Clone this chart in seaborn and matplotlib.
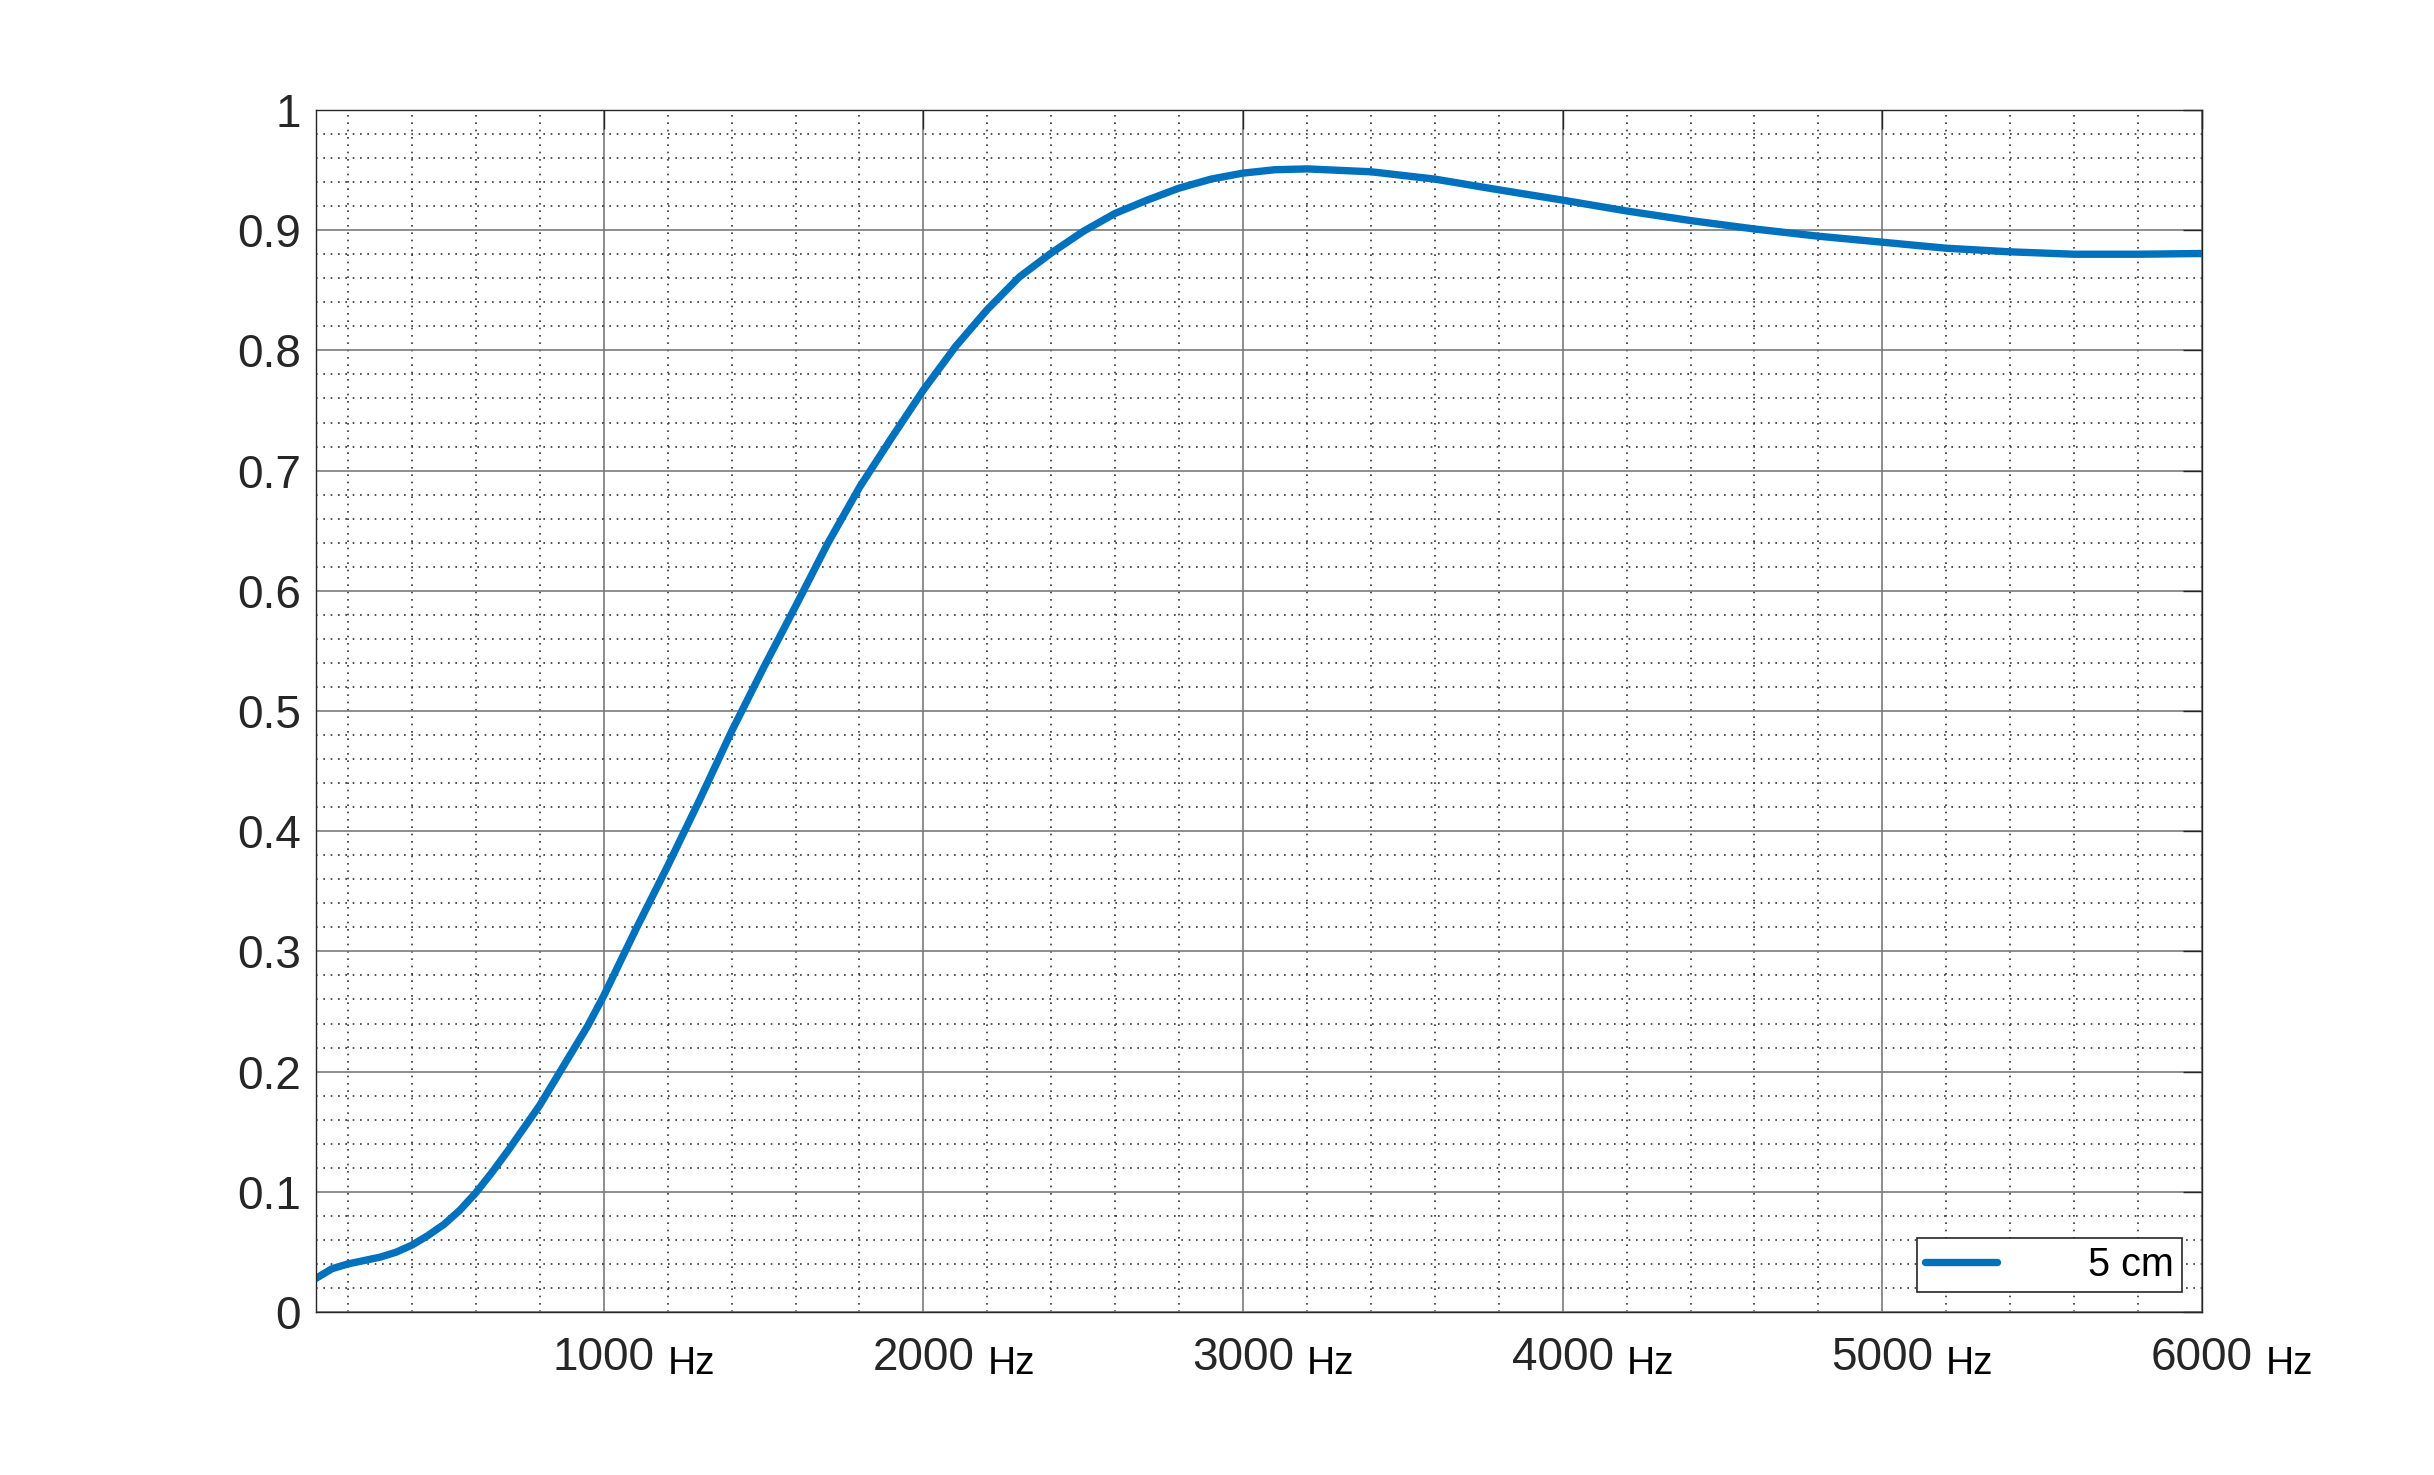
import numpy as np
import pandas as pd
import matplotlib
matplotlib.use("Agg")
import matplotlib.pyplot as plt
import seaborn as sns
from matplotlib.ticker import MultipleLocator, FuncFormatter

# values (frequency in Hz, absorption coefficient)
freq = [100, 150, 200, 250, 300, 350, 400, 450, 500, 550, 600, 650, 700,
        750, 800, 850, 900, 950, 1000, 1100, 1200, 1300, 1400, 1500, 1600,
        1700, 1800, 1900, 2000, 2100, 2200, 2300, 2400, 2500, 2600, 2700,
        2800, 2900, 3000, 3100, 3200, 3400, 3600, 3800, 4000, 4200, 4400,
        4600, 4800, 5000, 5200, 5400, 5600, 5800, 6000]
absorption = [0.028, 0.036, 0.040, 0.0428, 0.0456, 0.0497, 0.0556, 0.0636,
              0.0728, 0.0847, 0.0992, 0.116, 0.134, 0.153, 0.172, 0.194,
              0.216, 0.238, 0.263, 0.318, 0.371, 0.426, 0.483, 0.536, 0.587,
              0.639, 0.686, 0.727, 0.767, 0.803, 0.834, 0.861, 0.881, 0.899,
              0.914, 0.925, 0.935, 0.9425, 0.9475, 0.9503, 0.951, 0.9486,
              0.9425, 0.9336, 0.925, 0.916, 0.908, 0.901, 0.895, 0.890,
              0.885, 0.882, 0.880, 0.880, 0.8806]
series_label = "5 cm"
x_ticks = [1000, 2000, 3000, 4000, 5000, 6000]
y_ticks = [0, 0.1, 0.2, 0.3, 0.4, 0.5, 0.6, 0.7, 0.8, 0.9, 1.0]
unit = "Hz"

df = pd.DataFrame({"freq": freq, "alpha": absorption})

sns.set_style("white")
plt.rcParams["font.family"] = ["Liberation Sans", "DejaVu Sans"]

line_color = "#0072BD"
text_color = "#262626"

fig = plt.figure(figsize=(24.34, 14.75), dpi=100)
ax = fig.add_axes([0.12983, 0.11051, 0.77486, 0.81492])

sns.lineplot(data=df, x="freq", y="alpha", color=line_color, linewidth=5.3,
             label=series_label, ax=ax)

ax.set_xlim(100, 6000)
ax.set_ylim(0, 1)
ax.set_xlabel("")
ax.set_ylabel("")

ax.set_xticks(x_ticks)
ax.set_yticks(y_ticks)
ax.xaxis.set_minor_locator(MultipleLocator(200))
ax.yaxis.set_minor_locator(MultipleLocator(0.02))
ax.yaxis.set_major_formatter(FuncFormatter(lambda v, p: f"{v:g}"))
ax.xaxis.set_major_formatter(FuncFormatter(lambda v, p: f"{v:.0f}"))

ax.grid(which="major", color="#7a7a7a", linewidth=1.2, linestyle="-")
ax.grid(which="minor", color="#333333", linewidth=1.2, linestyle=(0, (1, 3.4)))
ax.set_axisbelow(True)

ax.tick_params(which="major", direction="in", length=13.5, width=1.0,
               color=text_color, top=True, right=True, labelsize=33,
               labelcolor=text_color)
ax.tick_params(axis="y", which="major", pad=11)
ax.tick_params(axis="x", which="major", pad=17)
ax.tick_params(which="minor", length=0)

for side in ax.spines.values():
    side.set_visible(True)
    side.set_color(text_color)
    side.set_linewidth(1.0)

# unit after each frequency label
for t in x_ticks:
    ax.annotate(unit, xy=(t, 0), xycoords=("data", "axes fraction"),
                xytext=(46, -44.5), textcoords="offset points",
                ha="left", va="baseline", fontsize=28, color="black",
                annotation_clip=False)

leg = ax.legend(loc="lower right", fontsize=28.5, handlelength=1.83,
                handletextpad=2.3, borderpad=0.2, borderaxespad=0.5,
                fancybox=False, framealpha=1, edgecolor=text_color)
leg.get_frame().set_linewidth(1.2)
for txt in leg.get_texts():
    txt.set_color("black")

fig.savefig("out.png", dpi=100, facecolor="white")
